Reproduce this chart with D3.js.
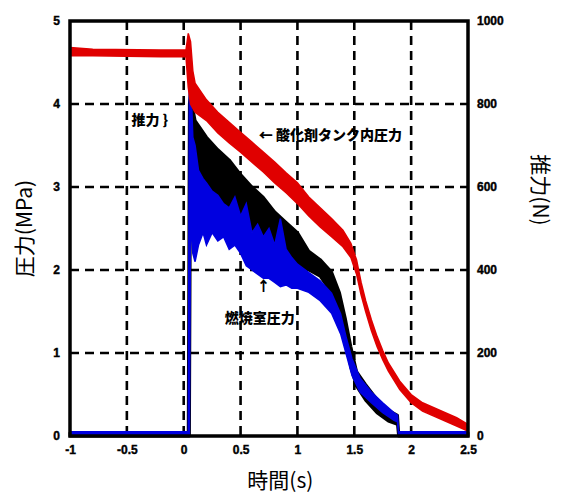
<!DOCTYPE html>
<html>
<head>
<meta charset="utf-8">
<script src="https://cdn.jsdelivr.net/npm/d3@7"></script>
<style>
  body { margin: 0; background: #fff; }
  .tick text { font-family: "Liberation Sans", Arial, sans-serif; font-weight: bold; font-size: 12px; fill: #000; stroke: #000; stroke-width: 0.4px; }
  .title { font-family: "Noto Sans CJK JP", sans-serif; font-size: 21px; fill: #000; }
  .note { font-family: "Noto Sans CJK JP", sans-serif; font-weight: 900; font-size: 14px; fill: #000; }
</style>
</head>
<body>
<div id="chart"></div>
<script>
// tick labels
var xTicks = [-1, -0.5, 0, 0.5, 1, 1.5, 2, 2.5];
var xTickLabels = ["-1", "-0.5", "0", "0.5", "1", "1.5", "2", "2.5"];
var pTicks = [0, 1, 2, 3, 4, 5];
var fTicks = [0, 200, 400, 600, 800, 1000];

// tank pressure (MPa), band low / high
var tankTime = [-1, -0.8, -0.2, 0.02, 0.04, 0.06, 0.08, 0.1, 0.2, 0.3, 0.4, 0.5, 0.6, 0.7, 0.8, 0.9, 1.0, 1.1, 1.2, 1.3, 1.4, 1.47, 1.52, 1.56, 1.6, 1.65, 1.7, 1.75, 1.8, 1.9, 2.0, 2.1, 2.2, 2.3, 2.4, 2.5];
var tankLo = [4.58, 4.58, 4.57, 4.57, 4.2, 4.0, 3.95, 3.9, 3.8, 3.65, 3.53, 3.42, 3.3, 3.18, 3.05, 2.93, 2.8, 2.65, 2.52, 2.4, 2.28, 2.15, 1.95, 1.7, 1.5, 1.27, 1.08, 0.92, 0.78, 0.56, 0.4, 0.3, 0.24, 0.18, 0.12, 0.06];
var tankHi = [4.68, 4.66, 4.65, 4.65, 4.85, 4.75, 4.4, 4.25, 4.05, 3.9, 3.78, 3.66, 3.54, 3.42, 3.3, 3.17, 3.05, 2.88, 2.75, 2.62, 2.48, 2.32, 2.12, 1.85, 1.63, 1.4, 1.2, 1.03, 0.88, 0.66, 0.5, 0.4, 0.34, 0.28, 0.22, 0.14];

// thrust (N)
var thrustTime = [-1, 0.04, 0.05, 0.06, 0.08, 0.1, 0.15, 0.2, 0.3, 0.4, 0.5, 0.6, 0.7, 0.8, 0.9, 1.0, 1.1, 1.2, 1.3, 1.37, 1.42, 1.47, 1.52, 1.6, 1.7, 1.8, 1.88, 1.89, 2.5];
var thrustLo = [0, 0, 0, 700, 660, 640, 620, 600, 570, 545, 525, 500, 475, 455, 435, 410, 400, 385, 345, 295, 235, 165, 120, 86, 56, 36, 28, 0, 0];
var thrustHi = [8, 8, 800, 830, 790, 760, 740, 720, 690, 665, 630, 600, 575, 540, 515, 490, 445, 425, 395, 345, 285, 215, 155, 124, 88, 62, 50, 8, 8];

// combustion chamber pressure (MPa)
var chamberTime = [-1, 0.04, 0.05, 0.06, 0.08, 0.1, 0.13, 0.17, 0.2, 0.25, 0.3, 0.35, 0.4, 0.45, 0.5, 0.55, 0.6, 0.65, 0.7, 0.75, 0.8, 0.85, 0.9, 0.95, 1.0, 1.1, 1.2, 1.3, 1.38, 1.43, 1.48, 1.55, 1.65, 1.75, 1.85, 1.88, 1.89, 2.5];
var chamberLo = [0, 0, 0, 2.6, 2.2, 2.1, 2.3, 2.45, 2.3, 2.45, 2.35, 2.4, 2.25, 2.3, 2.2, 2.05, 2.0, 1.95, 1.9, 1.9, 1.85, 1.8, 1.82, 1.78, 1.78, 1.73, 1.63, 1.48, 1.23, 0.98, 0.73, 0.53, 0.4, 0.28, 0.19, 0.17, 0, 0];
var chamberHi = [0.05, 0.05, 4.5, 4.4, 3.6, 3.5, 3.2, 3.1, 3.05, 2.95, 2.9, 2.8, 2.75, 2.88, 2.65, 2.8, 2.45, 2.55, 2.4, 2.5, 2.3, 2.62, 2.25, 2.15, 2.07, 1.97, 1.87, 1.72, 1.47, 1.18, 0.93, 0.7, 0.53, 0.4, 0.28, 0.25, 0.05, 0.05];

var W = 568, H = 495;
var margin = { top: 21, right: 100, bottom: 59, left: 70 };
var width = W - margin.left - margin.right,
    height = H - margin.top - margin.bottom;

var svg = d3.select("#chart").append("svg")
  .attr("width", W).attr("height", H);
var g = svg.append("g").attr("transform", `translate(${margin.left},${margin.top})`);

var x = d3.scaleLinear().domain([-1, 2.5]).range([0, width]);
var yP = d3.scaleLinear().domain([0, 5]).range([height, 0]);
var yF = d3.scaleLinear().domain([0, 1000]).range([height, 0]);

// dashed grid
g.append("g").selectAll("line").data([-0.5, 0, 0.5, 1, 1.5, 2]).join("line")
  .attr("x1", d => x(d)).attr("x2", d => x(d)).attr("y1", 0).attr("y2", height)
  .attr("stroke", "#000").attr("stroke-width", 2.6).attr("stroke-dasharray", "9,6");
g.append("g").selectAll("line").data([1, 2, 3, 4]).join("line")
  .attr("y1", d => yP(d)).attr("y2", d => yP(d)).attr("x1", 0).attr("x2", width)
  .attr("stroke", "#000").attr("stroke-width", 2.6).attr("stroke-dasharray", "9,6");

function band(times, lo, hi, ys) {
  var pts = times.map((t, i) => ({ t: t, lo: lo[i], hi: hi[i] }));
  return d3.area().x(d => x(d.t)).y0(d => ys(d.lo)).y1(d => ys(d.hi))(pts);
}

// thrust (black)
g.append("path").attr("d", band(thrustTime, thrustLo, thrustHi, yF))
  .attr("fill", "#000").attr("stroke", "#000").attr("stroke-width", 3).attr("stroke-linejoin", "round");
// chamber pressure (blue)
g.append("path").attr("d", band(chamberTime, chamberLo, chamberHi, yP))
  .attr("fill", "#0000e0").attr("stroke", "#0000e0").attr("stroke-width", 1.5);
// tank pressure (red)
g.append("path").attr("d", band(tankTime, tankLo, tankHi, yP))
  .attr("fill", "#e00000").attr("stroke", "#e00000").attr("stroke-width", 1.5);

// axes
g.append("g").attr("transform", `translate(0,${height})`)
  .call(d3.axisBottom(x).tickValues(xTicks).tickSize(0).tickPadding(9).tickFormat((d, i) => xTickLabels[i]))
  .call(a => a.select(".domain").remove());
g.append("g")
  .call(d3.axisLeft(yP).tickValues(pTicks).tickSize(0).tickPadding(10).tickFormat(d3.format("d")))
  .call(a => a.select(".domain").remove());
g.append("g").attr("transform", `translate(${width},0)`)
  .call(d3.axisRight(yF).tickValues(fTicks).tickSize(0).tickPadding(9).tickFormat(d3.format("d")))
  .call(a => a.select(".domain").remove());

// frame
g.append("rect").attr("width", width).attr("height", height)
  .attr("fill", "none").attr("stroke", "#000").attr("stroke-width", 3.5);

// titles
svg.append("text").attr("class", "title").attr("text-anchor", "middle")
  .attr("transform", `translate(32,${margin.top + height / 2}) rotate(-90)`).text("圧力(MPa)");
svg.append("text").attr("class", "title").attr("text-anchor", "middle")
  .attr("transform", `translate(533,190) rotate(90)`).text("推力(N)");
svg.append("text").attr("class", "title").attr("text-anchor", "middle")
  .attr("x", margin.left + x(0.85)).attr("y", 488).text("時間(s)");

// annotations
g.append("text").attr("class", "note").attr("x", x(-0.46)).attr("y", yP(3.75)).text("推力 }");
g.append("text").attr("class", "note").attr("x", x(0.66)).attr("y", yP(3.57)).text("← 酸化剤タンク内圧力");
g.append("text").attr("class", "note").attr("x", x(0.64)).attr("y", yP(1.75)).text("↑");
g.append("text").attr("class", "note").attr("x", x(0.36)).attr("y", yP(1.36)).text("燃焼室圧力");
</script>
</body>
</html>
